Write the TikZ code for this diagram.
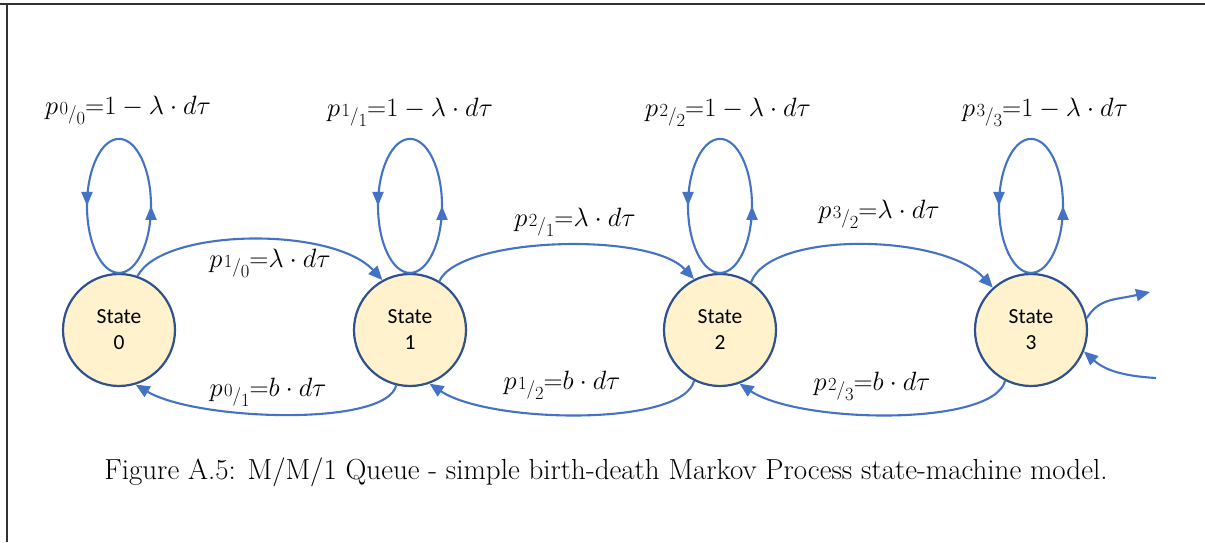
\RequirePackage{fix-cm}
\documentclass[tikz,border=0pt]{standalone}
\usepackage{fontspec}
\newfontfamily\carl{Carlito}
\usetikzlibrary{arrows.meta,decorations.markings}
\definecolor{arcblue}{HTML}{4472C4}
\definecolor{nodeborder}{HTML}{2F528F}
\definecolor{nodefill}{HTML}{FFF2CC}
\newcommand\ppr[2]{p\mkern1mu{\scriptstyle #1}\raisebox{-0.45ex}{$\scriptstyle/$}\raisebox{-0.9ex}{$\scriptstyle #2$}}
\tikzset{
  stnode/.style={circle, draw=nodeborder, line width=2.2pt, fill=nodefill,
    minimum size=112pt, inner sep=0pt, align=center,
    font=\carl\fontsize{21.5}{26}\selectfont},
  conn/.style={arcblue, line width=2.1pt, -{Triangle[length=14pt,width=12pt]}},
  selfloop/.style={arcblue, line width=2.1pt, postaction={decorate},
    decoration={markings,
      mark=at position 0.25 with {\arrow{Triangle[length=14pt,width=11pt]}},
      mark=at position 0.75 with {\arrow{Triangle[length=14pt,width=11pt]}}}},
  lbl/.style={font=\fontsize{26.5}{30}\selectfont, inner sep=0pt},
  frameline/.style={line width=1.8pt, black!80}
}
\begin{document}
\begin{tikzpicture}[x=1pt,y=1pt]
\useasboundingbox (0,0) rectangle (1205,542);
% frame
\coordinate (ftl) at (7,538);
\coordinate (fl) at (0,538);
\coordinate (fr) at (1205,538);
\coordinate (fb) at (7,0);
\draw[frameline] (fl) -- (fr);
\draw[frameline] (ftl) -- (fb);
% states
\node[stnode] (s0) at (119,212) {State\\0};
\node[stnode] (s1) at (410,212) {State\\1};
\node[stnode] (s2) at (720,212) {State\\2};
\node[stnode] (s3) at (1031,212) {State\\3};
% self loops
\draw[selfloop] (s0.north) arc[start angle=-90, end angle=270, x radius=32, y radius=67];
\draw[selfloop] (s1.north) arc[start angle=-90, end angle=270, x radius=32, y radius=67];
\draw[selfloop] (s2.north) arc[start angle=-90, end angle=270, x radius=32, y radius=67];
\draw[selfloop] (s3.north) arc[start angle=-90, end angle=270, x radius=32, y radius=67];
% forward arcs
\draw[conn] (s0.71) .. controls +(25,48) and +(-50,54) .. (s1.119);
\draw[conn] (s1.59) .. controls +(20,44) and +(-45,48) .. (s2.117);
\draw[conn] (s2.57) .. controls +(20,52) and +(-50,54) .. (s3.132);
% backward arcs
\draw[conn] (s1.256) .. controls +(-10,-42) and +(60,-36) .. (s0.287);
\draw[conn] (s2.243) .. controls +(-12,-46) and +(60,-40) .. (s1.290);
\draw[conn] (s3.243) .. controls +(-12,-46) and +(60,-40) .. (s2.290);
% right side
\coordinate (outend) at (1150,250);
\coordinate (instart) at (1156,164);
\draw[conn] (s3.12) .. controls +(12,20) and +(-35,-8) .. (outend);
\draw[conn] (instart) .. controls +(-35,2) and +(20,-18) .. (s3.-22);
% labels
\node[lbl] (l00) at (128,432) {$\ppr00{=}1-\lambda\cdot d\tau$};
\node[lbl] (l11) at (410,430) {$\ppr11{=}1-\lambda\cdot d\tau$};
\node[lbl] (l22) at (728,430) {$\ppr22{=}1-\lambda\cdot d\tau$};
\node[lbl] (l33) at (1045,430) {$\ppr33{=}1-\lambda\cdot d\tau$};
\node[lbl] (l10) at (270,279) {$\ppr10{=}\lambda\cdot d\tau$};
\node[lbl] (l21) at (575,320) {$\ppr21{=}\lambda\cdot d\tau$};
\node[lbl] (l32) at (879,328) {$\ppr32{=}\lambda\cdot d\tau$};
\node[lbl] (l01) at (268,150) {$\ppr01{=}b\cdot d\tau$};
\node[lbl] (l12) at (562,157) {$\ppr12{=}b\cdot d\tau$};
\node[lbl] (l23) at (872,156) {$\ppr23{=}b\cdot d\tau$};
% caption
\node[font=\fontsize{29}{34}\selectfont, inner sep=0pt] (cap) at (606,70)
  {Figure A.5: M/M/1 Queue - simple birth-death Markov Process state-machine model.};
\end{tikzpicture}
\end{document}
